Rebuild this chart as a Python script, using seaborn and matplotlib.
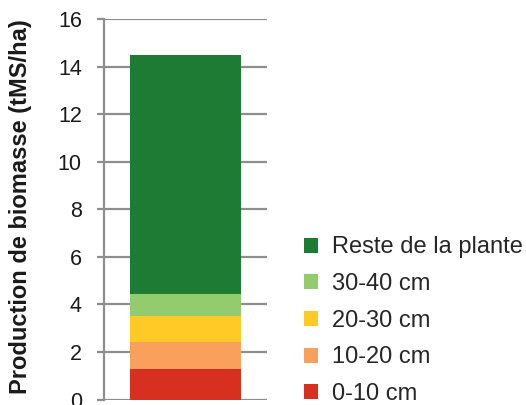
import matplotlib
matplotlib.use("Agg")
import matplotlib.pyplot as plt
import seaborn as sns
import numpy as np
from matplotlib.patches import Patch

# --- données ---
couches = ['0-10 cm', '10-20 cm', '20-30 cm', '30-40 cm', 'Reste de la plante']
biomasse = [1.3, 1.1, 1.1, 0.95, 10.05]
couleurs = ['#D72F20', '#F9A15C', '#FFC926', '#93CC6E', '#1E7B34']
yticks = [0, 2, 4, 6, 8, 10, 12, 14, 16]

sns.set_theme(style='white')
plt.rcParams['font.family'] = ['Liberation Sans', 'DejaVu Sans']

gris = '#8E8E8E'

fig = plt.figure(figsize=(5.26, 4.05), dpi=100)
ax = fig.add_axes([104 / 526, 1 - 399.5 / 405, 163 / 526, 380.5 / 405])

# barres empilées : on dessine le cumul du haut vers le bas
cumul = np.cumsum(biomasse)
for i in reversed(range(len(couches))):
    sns.barplot(x=[''], y=[cumul[i]], color=couleurs[i], saturation=1,
                width=0.68, ax=ax, zorder=3, linewidth=0, edgecolor='none')

ax.set_ylim(0, 16)
ax.set_yticks(yticks)
ax.set_xticks([])
ax.set_xlabel('')
ax.yaxis.grid(True, color=gris, linewidth=1.6)
ax.set_axisbelow(True)
for s in ['top', 'right', 'bottom']:
    ax.spines[s].set_visible(False)
ax.spines['left'].set_color(gris)
ax.spines['left'].set_linewidth(1.6)
ax.tick_params(axis='y', left=True, length=5, width=1.6, color=gris,
               labelsize=15.5, pad=11, labelcolor='#1a1a1a')
ax.set_ylabel('Production de biomasse (tMS/ha)', fontsize=17,
              fontweight='bold', color='#1a1a1a')
ax.yaxis.set_label_coords(-0.44, 0.507)

handles = [Patch(facecolor=couleurs[i], edgecolor='none', label=couches[i])
           for i in reversed(range(len(couches)))]
fig.legend(handles=handles, loc='lower left', bbox_to_anchor=(304 / 526, 0.0),
           frameon=False, fontsize=17, handlelength=0.6, handleheight=0.6,
           handletextpad=0.6, labelspacing=0.62, borderpad=0, borderaxespad=0)

fig.savefig('out.png', dpi=100)
